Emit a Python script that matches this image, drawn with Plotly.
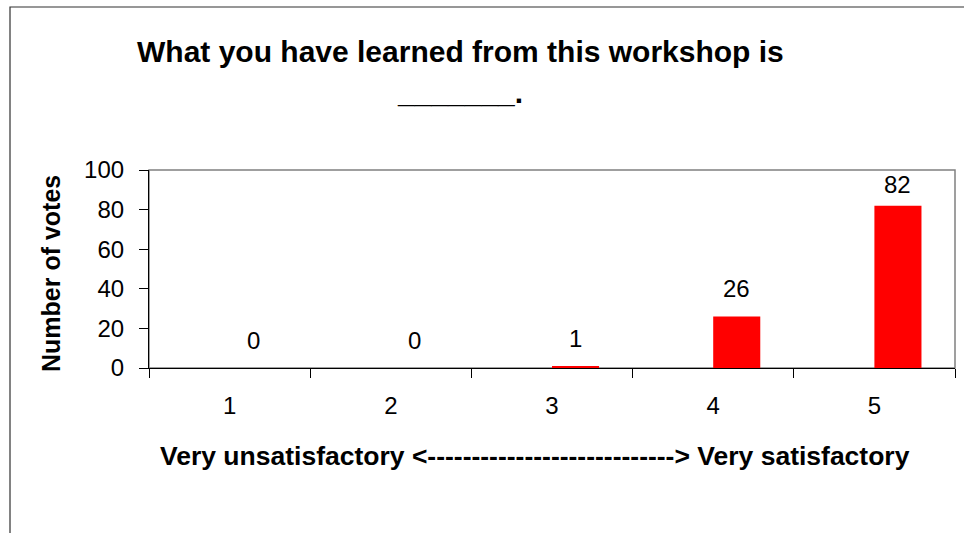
import plotly.graph_objects as go

categories = ["1", "2", "3", "4", "5"]
votes = [0, 0, 1, 26, 82]
y_ticks = [0, 20, 40, 60, 80, 100]

title_line1 = "What you have learned from this workshop is"
title_line2 = "_______."
x_title = "Very unsatisfactory <" + "-" * 28 + "> Very satisfactory"
y_title = "Number of votes"

FONT = "Arial, Liberation Sans, sans-serif"
W, H = 964, 533
L, R, T, B = 149, 9, 170, 165
pw, ph = W - L - R, H - T - B

def px_x(x):
    return (x - L) / pw

def px_y(y):
    return (H - B - y) / ph

fig = go.Figure()
fig.add_trace(go.Bar(
    x=categories, y=votes,
    marker=dict(color="#FF0000", line=dict(width=0)),
    width=0.292, offset=0,
    hoverinfo="skip",
))

annotations = []
for i, v in enumerate(votes):
    annotations.append(dict(
        x=i + 0.146, y=min(v + 14.1, 92.9), xref="x", yref="y",
        text=str(v), showarrow=False,
        font=dict(family=FONT, size=24, color="black"),
        xanchor="center", yanchor="middle",
    ))

annotations += [
    dict(x=px_x(460), y=px_y(51.6), xref="paper", yref="paper", text="<b>%s</b>" % title_line1,
         showarrow=False, font=dict(family=FONT, size=30, color="black"), xanchor="center", yanchor="middle"),
    dict(x=px_x(460), y=px_y(92.3), xref="paper", yref="paper", text="<b>%s</b>" % title_line2,
         showarrow=False, font=dict(family=FONT, size=30, color="black"), xanchor="center", yanchor="middle"),
    dict(x=px_x(535), y=px_y(456), xref="paper", yref="paper", text="<b>%s</b>" % x_title,
         showarrow=False, font=dict(family=FONT, size=26.5, color="black"), xanchor="center", yanchor="middle"),
    dict(x=px_x(51), y=px_y(274), xref="paper", yref="paper", text="<b>%s</b>" % y_title, textangle=-90,
         showarrow=False, font=dict(family=FONT, size=25, color="black"), xanchor="center", yanchor="middle"),
]

shapes = [
    # plot-area border (grey)
    dict(type="rect", xref="paper", yref="paper", x0=0, x1=1, y0=0, y1=1,
         line=dict(color="#808080", width=1.5), layer="below"),
    # outer chart border
    dict(type="rect", xref="paper", yref="paper",
         x0=px_x(10), x1=px_x(975), y0=px_y(545), y1=px_y(7),
         line=dict(color="#303030", width=1.2), layer="below"),
]

fig.update_layout(
    width=W, height=H,
    margin=dict(l=L, r=R, t=T, b=B, pad=0),
    paper_bgcolor="white", plot_bgcolor="white",
    showlegend=False,
    annotations=annotations, shapes=shapes,
    font=dict(family=FONT, size=24, color="black"),
    xaxis=dict(
        type="category", range=[-0.5, 4.5],
        showline=True, linecolor="black", linewidth=1.2,
        ticks="outside", tickson="boundaries", ticklen=9, tickcolor="black", tickwidth=1.2,
        tickfont=dict(family=FONT, size=24, color="black"),
        ticklabelstandoff=16,
        showgrid=False, zeroline=False, fixedrange=True,
    ),
    yaxis=dict(
        range=[0, 100], tickvals=y_ticks,
        showline=True, linecolor="black", linewidth=1.2,
        ticks="outside", ticklen=9, tickcolor="black", tickwidth=1.2,
        tickfont=dict(family=FONT, size=24, color="black"),
        ticklabelstandoff=10,
        showgrid=False, zeroline=False, fixedrange=True,
    ),
)

fig.write_html(
    "out.html",
    config={"displayModeBar": False},
    post_script="document.body.style.margin='0px';document.body.style.overflow='hidden';",
)
